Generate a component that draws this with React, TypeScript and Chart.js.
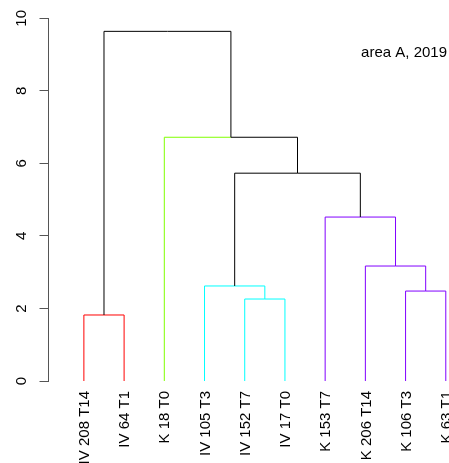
import React, { useEffect, useRef } from "react";
import { Chart, registerables } from "chart.js";

Chart.register(...registerables);

// Leaves, in the order drawn from left to right
const leafLabels = [
  "IV 208 T14",
  "IV 64 T1",
  "K 18 T0",
  "IV 105 T3",
  "IV 152 T7",
  "IV 17 T0",
  "K 153 T7",
  "K 206 T14",
  "K 106 T3",
  "K 63 T1",
];

// R-style merge matrix: negative = leaf number, positive = earlier merge number
const mergeLeft = [-1, -5, -4, -9, -8, -7, 3, -3, 1];
const mergeRight = [-2, -6, 2, -10, 4, 5, 6, 7, 8];
const mergeHeights = [1.82, 2.26, 2.62, 2.48, 3.17, 4.52, 5.73, 6.72, 9.64];

// cluster of each leaf (k = 4 cut) and the cluster colours (rainbow(4))
const leafCluster = [0, 0, 1, 2, 2, 2, 3, 3, 3, 3];
const clusterColors = ["#FF0000", "#80FF00", "#00FFFF", "#8000FF"];

const yTicks = [0, 2, 4, 6, 8, 10];
const annotation = "area A, 2019";

const FONT = '15px "Liberation Sans", Arial, Helvetica, sans-serif';

function buildDatasets() {
  const mx: number[] = [];
  const mc: number[] = [];
  const nx = (r: number) => (r < 0 ? -r : mx[r - 1]);
  const nh = (r: number) => (r < 0 ? 0 : mergeHeights[r - 1]);
  const nc = (r: number) => (r < 0 ? leafCluster[-r - 1] : mc[r - 1]);
  const datasets: any[] = [];
  for (let i = 0; i < mergeHeights.length; i++) {
    const a = mergeLeft[i];
    const b = mergeRight[i];
    mx.push((nx(a) + nx(b)) / 2);
    mc.push(nc(a) === nc(b) ? nc(a) : -1);
  }
  for (let i = 0; i < mergeHeights.length; i++) {
    const px = mx[i];
    const ph = mergeHeights[i];
    [mergeLeft[i], mergeRight[i]].forEach((c) => {
      const cc = nc(c);
      const colored = cc >= 0 && (c < 0 || cc === mc[i]);
      datasets.push({
        data: [
          { x: nx(c), y: nh(c) },
          { x: nx(c), y: ph },
          { x: px, y: ph },
        ],
        showLine: true,
        borderColor: colored ? clusterColors[cc] : "#000000",
        borderWidth: 1,
        pointRadius: 0,
        fill: false,
        tension: 0,
        order: colored ? 1 : 0,
      });
    });
  }
  return datasets;
}

const textPlugin = {
  id: "dendroText",
  afterDraw(chart: any) {
    const ctx = chart.ctx;
    const xs = chart.scales.x;
    const ys = chart.scales.y;
    ctx.save();
    ctx.fillStyle = "#000";
    ctx.font = FONT;
    yTicks.forEach((v) => {
      const py = ys.getPixelForValue(v);
      ctx.save();
      ctx.translate(chart.chartArea.left - 23, py);
      ctx.rotate(-Math.PI / 2);
      ctx.textAlign = "center";
      ctx.textBaseline = "alphabetic";
      ctx.fillText(String(v), 0, 0);
      ctx.restore();
    });
    leafLabels.forEach((lab, i) => {
      const px = xs.getPixelForValue(i + 1);
      const py = ys.getPixelForValue(0) + 10;
      ctx.save();
      ctx.translate(px + 1, py);
      ctx.rotate(-Math.PI / 2);
      ctx.textAlign = "right";
      ctx.textBaseline = "middle";
      ctx.fillText(lab, 0, 0);
      ctx.restore();
    });
    ctx.textAlign = "right";
    ctx.textBaseline = "alphabetic";
    ctx.fillText(annotation, chart.chartArea.right - 2, chart.chartArea.top + 39);
    ctx.restore();
  },
};

export default function App() {
  const ref = useRef<HTMLCanvasElement | null>(null);
  useEffect(() => {
    if (!ref.current) return;
    const chart = new Chart(ref.current, {
      type: "scatter",
      data: { datasets: buildDatasets() },
      options: {
        animation: false,
        responsive: false,
        events: [],
        layout: { padding: { left: 39.5, right: 0, top: 18.3, bottom: 82 } },
        plugins: { legend: { display: false }, tooltip: { enabled: false } },
        scales: {
          x: { type: "linear", min: 0.12, max: 10.08, display: false },
          y: {
            type: "linear",
            min: 0,
            max: 10,
            afterFit: (s: any) => {
              s.width = 9;
            },
            ticks: { display: false, stepSize: 2 },
            grid: { drawOnChartArea: false, drawTicks: true, tickLength: 9, color: "#555", lineWidth: 1 },
            border: { display: true, color: "#555", width: 1 },
          },
        },
      },
      plugins: [textPlugin],
    });
    return () => chart.destroy();
  }, []);
  return (
    <div style={{ position: "absolute", left: 0, top: 0, width: 449, height: 463, background: "#fff" }}>
      <canvas ref={ref} width={449} height={463} style={{ display: "block" }} />
    </div>
  );
}
